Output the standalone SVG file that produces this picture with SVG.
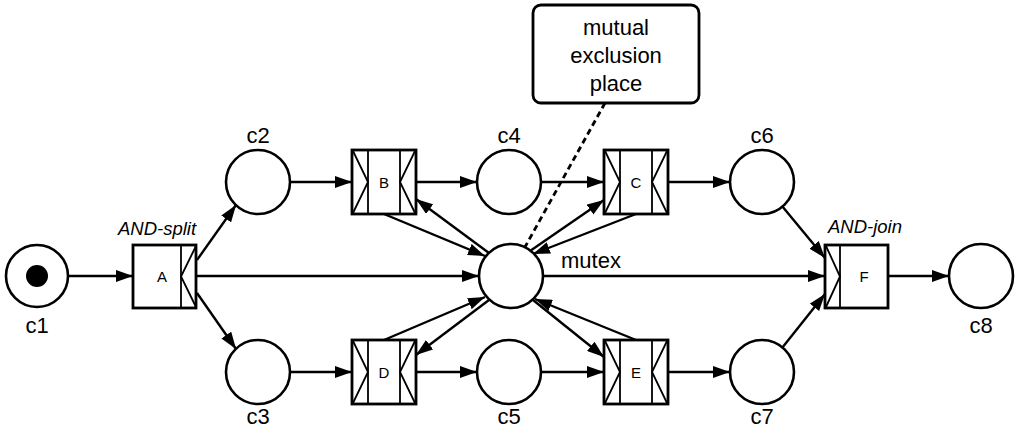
<svg xmlns="http://www.w3.org/2000/svg" width="1016" height="431" viewBox="0 0 1016 431">
<style>
.pl{fill:#fff;stroke:#000;stroke-width:2.6}
.tr{fill:#fff;stroke:#000;stroke-width:2.8}
.tl{fill:none;stroke:#000;stroke-width:1.8}
.ar{fill:none;stroke:#000;stroke-width:2.4;marker-end:url(#ah)}
.lb{font-family:"Liberation Sans",Arial,sans-serif;font-size:22px;fill:#000}
.tn{font-family:"Liberation Sans",Arial,sans-serif;font-size:15px;fill:#000;text-anchor:middle}
.it{font-family:"Liberation Sans",Arial,sans-serif;font-size:18.5px;font-style:italic;fill:#000;text-anchor:middle}
.mid{text-anchor:middle}
</style>
<defs>
<marker id="ah" markerUnits="userSpaceOnUse" markerWidth="17" markerHeight="12" refX="17" refY="6" orient="auto">
<path d="M0,0 L17,6 L0,12 z" fill="#000"/>
</marker>
</defs>
<g id="connectors">
<line class="ar" x1="69" y1="276" x2="133" y2="276"/>
<line class="ar" x1="197" y1="260" x2="236" y2="205"/>
<line class="ar" x1="197" y1="293" x2="236" y2="349"/>
<line class="ar" x1="196" y1="276" x2="479" y2="276"/>
<line class="ar" x1="290" y1="182" x2="352" y2="182"/>
<line class="ar" x1="416" y1="182" x2="477" y2="182"/>
<line class="ar" x1="541" y1="182" x2="604" y2="182"/>
<line class="ar" x1="668" y1="182" x2="730" y2="182"/>
<line class="ar" x1="782" y1="206" x2="825" y2="258"/>
<line class="ar" x1="543" y1="276" x2="825" y2="276"/>
<line class="ar" x1="782" y1="348" x2="825" y2="294"/>
<line class="ar" x1="888" y1="276" x2="949" y2="276"/>
<line class="ar" x1="290" y1="372" x2="352" y2="372"/>
<line class="ar" x1="416" y1="372" x2="477" y2="372"/>
<line class="ar" x1="541" y1="372" x2="604" y2="372"/>
<line class="ar" x1="668" y1="372" x2="730" y2="372"/>
<line class="ar" x1="384" y1="214" x2="485" y2="256"/>
<line class="ar" x1="489" y1="253" x2="416" y2="199"/>
<line class="ar" x1="636" y1="214" x2="533" y2="254"/>
<line class="ar" x1="530" y1="251" x2="604" y2="200"/>
<line class="ar" x1="384" y1="340" x2="485" y2="297"/>
<line class="ar" x1="489" y1="300" x2="416" y2="355"/>
<line class="ar" x1="533" y1="300" x2="604" y2="357"/>
<line class="ar" x1="636" y1="340" x2="535" y2="299"/>
<line x1="605" y1="103" x2="525" y2="247" stroke="#000" stroke-width="2.8" stroke-dasharray="6,4"/>
</g>
<g id="c1">
<circle class="pl" cx="37" cy="276" r="31"/>
<circle cx="37" cy="276" r="11" fill="#000"/>
<text class="lb mid" x="37" y="333">c1</text>
</g>
<g id="c2"><circle class="pl" cx="258" cy="182" r="32"/><text class="lb mid" x="258" y="143">c2</text></g>
<g id="c3"><circle class="pl" cx="258" cy="372" r="32"/><text class="lb mid" x="258" y="424">c3</text></g>
<g id="c4"><circle class="pl" cx="509" cy="182" r="32"/><text class="lb mid" x="509" y="143">c4</text></g>
<g id="c5"><circle class="pl" cx="509" cy="372" r="32"/><text class="lb mid" x="509" y="424">c5</text></g>
<g id="c6"><circle class="pl" cx="762" cy="182" r="32"/><text class="lb mid" x="762" y="143">c6</text></g>
<g id="c7"><circle class="pl" cx="762" cy="372" r="32"/><text class="lb mid" x="762" y="424">c7</text></g>
<g id="c8"><circle class="pl" cx="981" cy="276" r="32"/><text class="lb mid" x="981" y="333">c8</text></g>
<g id="mutex"><circle class="pl" cx="511" cy="276" r="32"/><text class="lb" x="561" y="268">mutex</text></g>
<g id="A">
<rect class="tr" x="133" y="245" width="63" height="63"/>
<line class="tl" x1="181" y1="245" x2="181" y2="308"/>
<polyline class="tl" points="196,246 181,276.5 196,307"/>
<text class="tn" x="162" y="282">A</text>
<text class="it" x="157" y="235">AND-split</text>
</g>
<g id="B">
<rect class="tr" x="352" y="150" width="64" height="64"/>
<line class="tl" x1="368" y1="150" x2="368" y2="214"/>
<line class="tl" x1="400" y1="150" x2="400" y2="214"/>
<polyline class="tl" points="353,151 368,182 353,213"/>
<polyline class="tl" points="415,151 400,182 415,213"/>
<text class="tn" x="384" y="188">B</text>
</g>
<g id="C">
<rect class="tr" x="604" y="150" width="64" height="64"/>
<line class="tl" x1="620" y1="150" x2="620" y2="214"/>
<line class="tl" x1="652" y1="150" x2="652" y2="214"/>
<polyline class="tl" points="605,151 620,182 605,213"/>
<polyline class="tl" points="667,151 652,182 667,213"/>
<text class="tn" x="636" y="188">C</text>
</g>
<g id="D">
<rect class="tr" x="352" y="340" width="64" height="64"/>
<line class="tl" x1="368" y1="340" x2="368" y2="404"/>
<line class="tl" x1="400" y1="340" x2="400" y2="404"/>
<polyline class="tl" points="353,341 368,372 353,403"/>
<polyline class="tl" points="415,341 400,372 415,403"/>
<text class="tn" x="384" y="378">D</text>
</g>
<g id="E">
<rect class="tr" x="604" y="340" width="64" height="64"/>
<line class="tl" x1="620" y1="340" x2="620" y2="404"/>
<line class="tl" x1="652" y1="340" x2="652" y2="404"/>
<polyline class="tl" points="605,341 620,372 605,403"/>
<polyline class="tl" points="667,341 652,372 667,403"/>
<text class="tn" x="636" y="378">E</text>
</g>
<g id="F">
<rect class="tr" x="825" y="245" width="63" height="63"/>
<line class="tl" x1="840" y1="245" x2="840" y2="308"/>
<polyline class="tl" points="826,246 840,276.5 826,307"/>
<text class="tn" x="864" y="282">F</text>
<text class="it" x="865" y="233">AND-join</text>
</g>
<g id="callout">
<rect x="533" y="5" width="166" height="98" rx="8" fill="#fff" stroke="#000" stroke-width="2.8"/>
<text class="lb mid" x="616" y="35">mutual</text>
<text class="lb mid" x="616" y="63">exclusion</text>
<text class="lb mid" x="616" y="91">place</text>
</g>
</svg>
